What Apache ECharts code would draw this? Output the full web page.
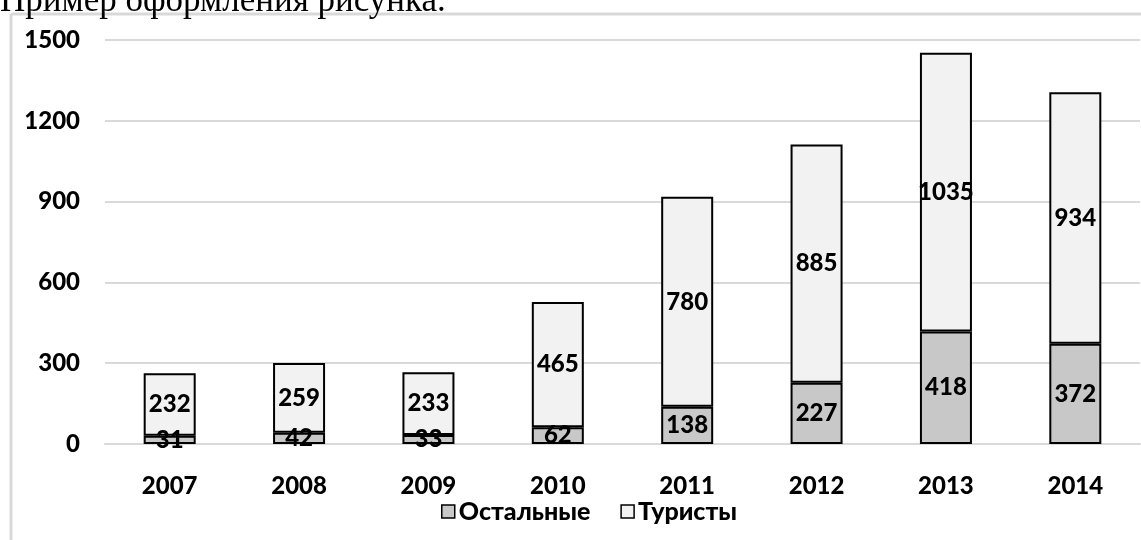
<!DOCTYPE html>
<html>
<head>
<meta charset="utf-8">
<script src="https://cdn.jsdelivr.net/npm/echarts@6/dist/echarts.min.js"></script>
<style>
html,body{margin:0;padding:0;background:#fff;}
#c{width:1141px;height:540px;}
</style>
</head>
<body>
<div id="c"></div>
<script>
const titleText = 'Пример оформления рисунка.';
const categories = ['2007','2008','2009','2010','2011','2012','2013','2014'];
const othersName = 'Остальные';
const touristsName = 'Туристы';
const othersValues = [31, 42, 33, 62, 138, 227, 418, 372];
const touristsValues = [232, 259, 233, 465, 780, 885, 1035, 934];
const yTicks = [0, 300, 600, 900, 1200, 1500];

const FONT = 'Lato';
const FW = 900;
const FS = 24;
const chart = echarts.init(document.getElementById('c'));
const labelStyle = {show:true, position:'inside', color:'#000', fontFamily:FONT, fontWeight:FW, fontSize:FS};
chart.setOption({
  animation:false,
  graphic:[
    {type:'line', shape:{x1:11, y1:14, x2:1141, y2:14}, style:{stroke:'#d9d9d9', lineWidth:3}, z:-1},
    {type:'line', shape:{x1:11, y1:14, x2:11, y2:540}, style:{stroke:'#d9d9d9', lineWidth:3}, z:-1},
    {type:'text', left:0, top:-16, z:10, style:{text:titleText, font:'35px "Liberation Serif"', fill:'#000'}}
  ],
  grid:{left:105, right:1, top:40, bottom:96, containLabel:false},
  legend:{
    bottom:11, left:436, icon:'rect', itemWidth:13, itemHeight:13, itemGap:30,
    itemStyle:{borderColor:'#000', borderWidth:1.5},
    textStyle:{color:'#000', fontFamily:FONT, fontWeight:FW, fontSize:25, padding:[0,0,0,-1]},
    data:[othersName, touristsName]
  },
  xAxis:{
    type:'category', data:categories,
    axisLine:{lineStyle:{color:'#d9d9d9', width:2}},
    axisTick:{show:false},
    axisLabel:{color:'#000', fontFamily:FONT, fontWeight:FW, fontSize:FS, margin:30}
  },
  yAxis:{
    type:'value', min:yTicks[0], max:yTicks[yTicks.length-1], interval:300,
    axisLine:{show:false}, axisTick:{show:false},
    splitLine:{lineStyle:{color:'#d9d9d9', width:2}},
    axisLabel:{color:'#000', fontFamily:FONT, fontWeight:FW, fontSize:FS, margin:25,
      formatter:function(v){return String(v);}}
  },
  series:[
    {name:othersName, type:'bar', stack:'a', barWidth:52, data:othersValues,
     itemStyle:{color:'#c8c8c8', borderColor:'#000', borderWidth:2}, label:labelStyle},
    {name:touristsName, type:'bar', stack:'a', barWidth:52, data:touristsValues,
     itemStyle:{color:'#f2f2f2', borderColor:'#000', borderWidth:2}, label:labelStyle}
  ]
});
</script>
</body>
</html>
